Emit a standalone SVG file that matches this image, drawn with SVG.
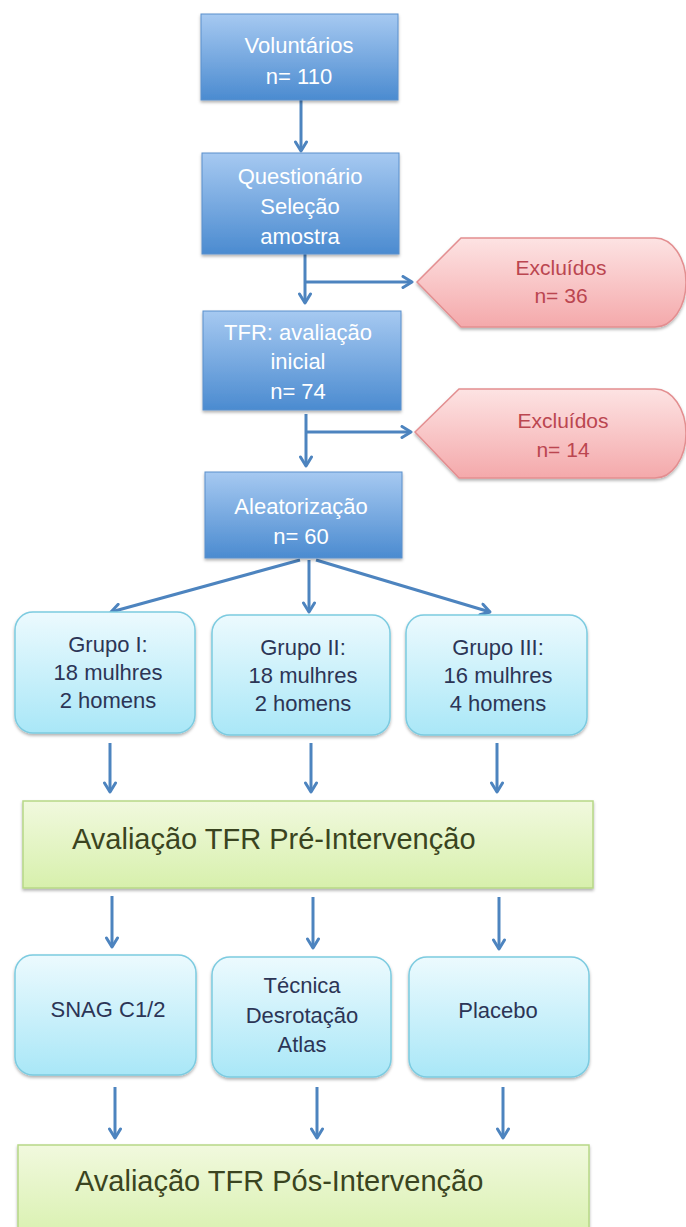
<svg xmlns="http://www.w3.org/2000/svg" width="686" height="1227" viewBox="0 0 686 1227">
<defs>
<linearGradient id="gBlue" x1="0" y1="0" x2="0" y2="1"><stop offset="0" stop-color="#a6c9f1"/><stop offset="1" stop-color="#4b8bd0"/></linearGradient>
<linearGradient id="gCyan" x1="0" y1="0" x2="0" y2="1"><stop offset="0" stop-color="#ecfafe"/><stop offset="1" stop-color="#a9e7f7"/></linearGradient>
<linearGradient id="gGreen" x1="0" y1="0" x2="0" y2="1"><stop offset="0" stop-color="#f1f9de"/><stop offset="1" stop-color="#d7f0ac"/></linearGradient>
<linearGradient id="gPink" x1="0" y1="0" x2="0" y2="1"><stop offset="0" stop-color="#fde3e3"/><stop offset="1" stop-color="#f4a9ab"/></linearGradient>
<filter id="sh" x="-10%" y="-10%" width="120%" height="130%"><feDropShadow dx="0" dy="2" stdDeviation="1.8" flood-color="#000" flood-opacity="0.3"/></filter>
<marker id="ah" viewBox="0 0 14 14" refX="12" refY="7" markerWidth="14" markerHeight="14" markerUnits="userSpaceOnUse" orient="auto"><path d="M3,1.5 L12,7 L3,12.5" fill="none" stroke="#4d84bf" stroke-width="3" stroke-linecap="round" stroke-linejoin="round"/></marker>
<style>
.blue{fill:url(#gBlue);stroke:#5a90cc;stroke-width:1;filter:url(#sh)}
.cyan{fill:url(#gCyan);stroke:#7ccbe0;stroke-width:1.5;filter:url(#sh)}
.green{fill:url(#gGreen);stroke:#b7d886;stroke-width:1.5;filter:url(#sh)}
.pink{fill:url(#gPink);stroke:#e38e90;stroke-width:1.5;filter:url(#sh)}
.tw{font-family:"Liberation Sans",Arial,sans-serif;font-size:22px;fill:#ffffff;text-anchor:middle}
.tc{font-family:"Liberation Sans",Arial,sans-serif;font-size:22px;fill:#2c3556;text-anchor:middle}
.tr{font-family:"Liberation Sans",Arial,sans-serif;font-size:21px;fill:#bb4650;text-anchor:middle}
.tg{font-family:"Liberation Sans",Arial,sans-serif;font-size:29px;fill:#3a4420}
.cn{fill:none;stroke:#4d84bf;stroke-width:3}
</style>
</defs>
<rect width="686" height="1227" fill="#ffffff"/>

<g id="connectors">
<line class="cn" x1="301" y1="100" x2="301" y2="151" marker-end="url(#ah)"/>
<line class="cn" x1="305" y1="254" x2="305" y2="303" marker-end="url(#ah)"/>
<line class="cn" x1="305" y1="282" x2="412" y2="282" marker-end="url(#ah)"/>
<line class="cn" x1="306" y1="414" x2="306" y2="466" marker-end="url(#ah)"/>
<line class="cn" x1="306" y1="432" x2="411" y2="432" marker-end="url(#ah)"/>
<line class="cn" x1="300" y1="560" x2="111" y2="612" marker-end="url(#ah)"/>
<line class="cn" x1="309" y1="560" x2="309" y2="612" marker-end="url(#ah)"/>
<line class="cn" x1="316" y1="560" x2="490" y2="612" marker-end="url(#ah)"/>
<line class="cn" x1="110" y1="743" x2="110" y2="792" marker-end="url(#ah)"/>
<line class="cn" x1="311" y1="743" x2="311" y2="792" marker-end="url(#ah)"/>
<line class="cn" x1="497" y1="743" x2="497" y2="792" marker-end="url(#ah)"/>
<line class="cn" x1="112" y1="896" x2="112" y2="947" marker-end="url(#ah)"/>
<line class="cn" x1="313" y1="897" x2="313" y2="948" marker-end="url(#ah)"/>
<line class="cn" x1="499" y1="897" x2="499" y2="949" marker-end="url(#ah)"/>
<line class="cn" x1="115" y1="1087" x2="115" y2="1138" marker-end="url(#ah)"/>
<line class="cn" x1="317" y1="1087" x2="317" y2="1138" marker-end="url(#ah)"/>
<line class="cn" x1="503" y1="1087" x2="503" y2="1138" marker-end="url(#ah)"/>
</g>

<g id="voluntarios">
<rect class="blue" x="201" y="14" width="197" height="86"/>
<text class="tw" x="299" y="53">Voluntários</text>
<text class="tw" x="299" y="84">n= 110</text>
</g>

<g id="questionario">
<rect class="blue" x="202" y="153" width="197" height="101"/>
<text class="tw" x="300" y="184">Questionário</text>
<text class="tw" x="300" y="214">Seleção</text>
<text class="tw" x="300" y="244">amostra</text>
</g>

<g id="excluidos1">
<path class="pink" d="M417,282 L461,238 L655,238 A31,44.5 0 0 1 655,327 L461,327 Z"/>
<text class="tr" x="561" y="275">Excluídos</text>
<text class="tr" x="561" y="303">n= 36</text>
</g>

<g id="tfr">
<rect class="blue" x="203" y="311" width="198" height="99"/>
<text class="tw" x="298" y="340">TFR: avaliação</text>
<text class="tw" x="298" y="369">inicial</text>
<text class="tw" x="298" y="399">n= 74</text>
</g>

<g id="excluidos2">
<path class="pink" d="M415,432 L459,389 L655,389 A31,44.5 0 0 1 655,478 L459,478 Z"/>
<text class="tr" x="563" y="428">Excluídos</text>
<text class="tr" x="563" y="457">n= 14</text>
</g>

<g id="aleatorizacao">
<rect class="blue" x="205" y="472" width="197" height="86"/>
<text class="tw" x="301" y="514">Aleatorização</text>
<text class="tw" x="301" y="544">n= 60</text>
</g>

<g id="grupo1">
<rect class="cyan" x="15" y="612" width="180" height="121" rx="18"/>
<text class="tc" x="108" y="652">Grupo I:</text>
<text class="tc" x="108" y="680">18 mulhres</text>
<text class="tc" x="108" y="708">2 homens</text>
</g>

<g id="grupo2">
<rect class="cyan" x="212" y="615" width="178" height="120" rx="18"/>
<text class="tc" x="303" y="655">Grupo II:</text>
<text class="tc" x="303" y="683">18 mulhres</text>
<text class="tc" x="303" y="711">2 homens</text>
</g>

<g id="grupo3">
<rect class="cyan" x="406" y="615" width="181" height="120" rx="18"/>
<text class="tc" x="498" y="655">Grupo III:</text>
<text class="tc" x="498" y="683">16 mulhres</text>
<text class="tc" x="498" y="711">4 homens</text>
</g>

<g id="pre">
<rect class="green" x="23" y="801" width="570" height="87"/>
<text class="tg" x="72" y="849">Avaliação TFR Pré-Intervenção</text>
</g>

<g id="snag">
<rect class="cyan" x="15" y="955" width="181" height="120" rx="18"/>
<text class="tc" x="108" y="1017">SNAG C1/2</text>
</g>

<g id="tecnica">
<rect class="cyan" x="212" y="957" width="179" height="120" rx="18"/>
<text class="tc" x="302" y="993">Técnica</text>
<text class="tc" x="302" y="1023">Desrotação</text>
<text class="tc" x="302" y="1052">Atlas</text>
</g>

<g id="placebo">
<rect class="cyan" x="409" y="957" width="180" height="120" rx="18"/>
<text class="tc" x="498" y="1018">Placebo</text>
</g>

<g id="pos">
<rect class="green" x="18" y="1145" width="571" height="100"/>
<text class="tg" x="75" y="1191">Avaliação TFR Pós-Intervenção</text>
</g>
</svg>
